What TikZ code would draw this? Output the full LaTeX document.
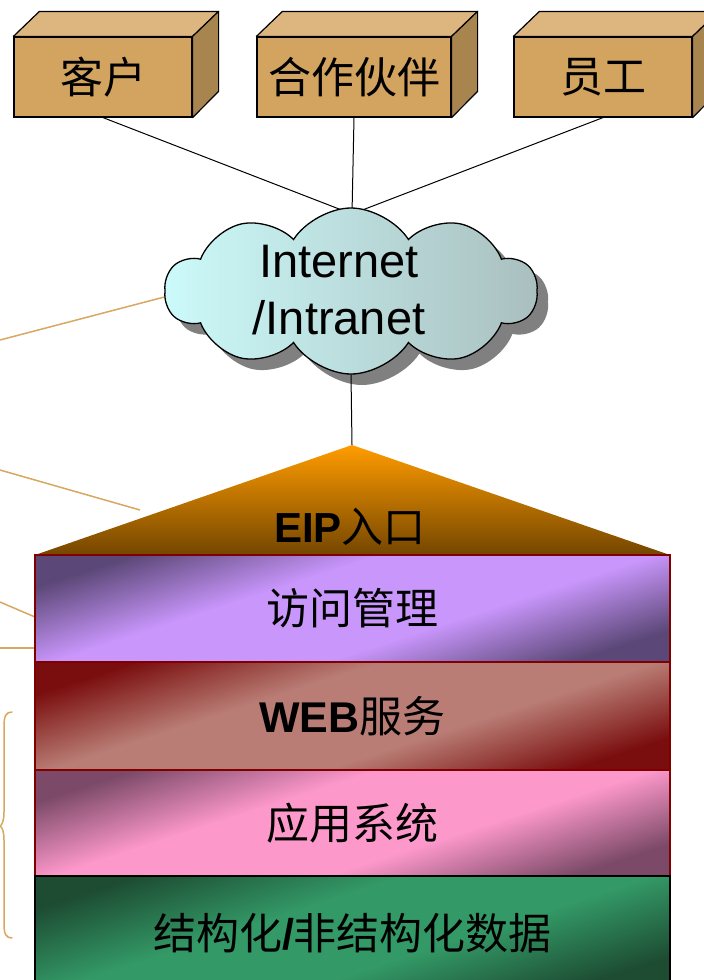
\documentclass[tikz,border=0pt]{standalone}
\usepackage{fontspec}
\setmainfont{Liberation Sans}
\newfontfamily\cjk{Noto Sans CJK SC}
\usetikzlibrary{shapes.symbols,shadows,calc}

% colours
\definecolor{boxfront}{HTML}{D2A45F}
\definecolor{boxtop}{HTML}{DDB67F}
\definecolor{boxside}{HTML}{A8854F}
\definecolor{tanline}{RGB}{216,168,96}
\definecolor{cloudL}{HTML}{CCFAFA}
\definecolor{cloudR}{HTML}{AABFBF}
\definecolor{eipTop}{HTML}{FF9C00}
\definecolor{eipBot}{HTML}{744600}
\definecolor{bandrule}{HTML}{800000}
\definecolor{pDark}{HTML}{5C4878}
\definecolor{pLight}{HTML}{C996FC}
\definecolor{wDark}{HTML}{7A0E0E}
\definecolor{wLight}{HTML}{B97D75}
\definecolor{kDark}{HTML}{7C4A68}
\definecolor{kLight}{HTML}{FD98CB}
\definecolor{gDark}{HTML}{1D4C33}
\definecolor{gLight}{HTML}{339966}

% two-tone shadings: dark corners, light middle
\pgfdeclarehorizontalshading{purpleband}{100bp}{color(0bp)=(pDark); color(25bp)=(pDark); color(41bp)=(pLight); color(59bp)=(pLight); color(75bp)=(pDark); color(100bp)=(pDark)}
\pgfdeclarehorizontalshading{webband}{100bp}{color(0bp)=(wDark); color(25bp)=(wDark); color(41bp)=(wLight); color(59bp)=(wLight); color(75bp)=(wDark); color(100bp)=(wDark)}
\pgfdeclarehorizontalshading{pinkband}{100bp}{color(0bp)=(kDark); color(25bp)=(kDark); color(41bp)=(kLight); color(59bp)=(kLight); color(75bp)=(kDark); color(100bp)=(kDark)}
\pgfdeclarehorizontalshading{greenband}{100bp}{color(0bp)=(gDark); color(25bp)=(gDark); color(42bp)=(gLight); color(58bp)=(gLight); color(75bp)=(gDark); color(100bp)=(gDark)}

\tikzset{
  front/.style={draw, line width=1.2pt, fill=boxfront, minimum height=80pt, inner sep=0pt,
    font=\cjk\fontsize{43}{48}\selectfont},
  face/.style={draw, line width=1.2pt, line join=round},
  link/.style={line width=1pt},
  tan/.style={tanline, line width=1.5pt},
  band/.style={draw=bandrule, line width=1.5pt, minimum width=635pt, inner sep=0pt,
    shading angle=-72, font=\fontsize{43}{48}\selectfont},
}

\begin{document}
\begin{tikzpicture}[x=1pt,y=-1pt]
\useasboundingbox (0,0) rectangle (704,980);

% side lines on the left
\draw[tan] (0,340) coordinate (s1a) -- (172,295) coordinate (s1b);
\draw[tan] (0,470) coordinate (s2a) -- (140,510) coordinate (s2b);
\draw[tan] (0,602) coordinate (s3a) -- (35,617) coordinate (s3b);
\draw[tan] (0,648) coordinate (s4a) -- (35,648) coordinate (s4b);
% brace
\draw[tan, line cap=round] (12,712) .. controls (6,712) and (4,716) .. (4,726) -- (4,812)
  .. controls (4,821) and (2,825) .. (0,826) .. controls (2,827) and (4,831) .. (4,840)
  -- (4,924) .. controls (4,934) and (6,938) .. (12,938);

% user groups as boxes
\node[front, minimum width=178pt] (cust) at (103,77) {客户};
\node[front, minimum width=194pt] (part) at (354,77) {合作伙伴};
\node[front, minimum width=178pt] (staff) at (603,77) {员工};
\foreach \b in {cust,part,staff}{
  \draw[face, fill=boxtop] (\b.north west) -- ++(26,-25) -| ($(\b.north east)+(26,-25)$) -- (\b.north east) -- cycle;
  \draw[face, fill=boxside] (\b.north east) -- ++(26,-25) -- ++(0,80) -- (\b.south east) -- cycle;
}

% network cloud
\coordinate (hub) at (352,214);
\draw[link] (cust.south) -- (hub);
\draw[link] (part.south) -- (hub);
\draw[link] (staff.south) -- (hub);
\coordinate (apex) at (352,445);
\node[cloud, cloud puffs=10, cloud puff arc=115, aspect=2.2, minimum width=372pt, minimum height=166pt,
  draw, line width=1.3pt, left color=cloudL, right color=cloudR,
  drop shadow={shadow xshift=11pt, shadow yshift=-11pt, fill=black!50, opacity=1}] (cloud) at (351,291) {};
\node[font=\fontsize{47}{57}\selectfont, align=center] (net) at (339,290) {Internet\\/Intranet};
\draw[link] (cloud.south) -- (apex);

% portal layers
\shade[top color=eipTop, bottom color=eipBot] (apex) -- (670,555) -- (35,555) -- cycle;
\node[font=\fontsize{42}{46}\selectfont] (eip) at (350,527) {\textbf{EIP}{\cjk 入口}};
\node[band, shading=purpleband, minimum height=107pt] (acc) at (352.5,608.5) {\cjk 访问管理};
\node[band, shading=webband, minimum height=108pt] (web) at (352.5,716) {\textbf{WEB}{\cjk 服务}};
\node[band, shading=pinkband, minimum height=106pt] (app) at (352.5,823) {\cjk 应用系统};
\node[band, shading=greenband, draw=black, minimum height=114pt] (data) at (352.5,933) {{\cjk 结构化}\textbf{/}{\cjk 非结构化数据}};
\end{tikzpicture}
\end{document}
